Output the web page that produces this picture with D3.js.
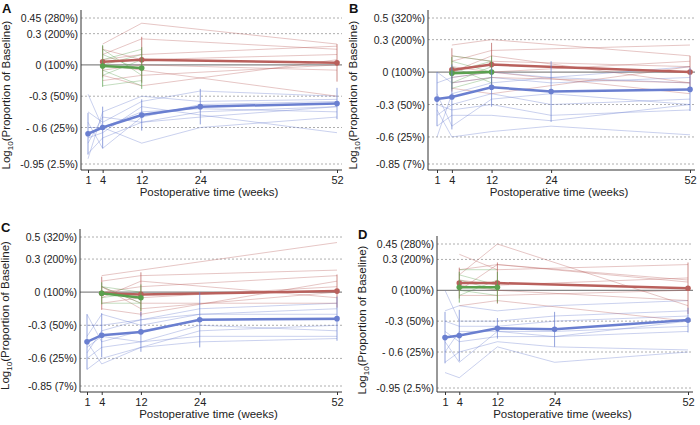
<!DOCTYPE html>
<html><head><meta charset="utf-8">
<script src="https://cdn.jsdelivr.net/npm/d3@7"></script>
<style>body{margin:0;background:#fff}text{font-family:Arial,"Liberation Sans",sans-serif}</style>
</head><body><svg id="c" width="700" height="425"></svg>
<script>
const blueWeeks=[1,4,12,24,52], redWeeks=[4,12,52], greenWeeks=[4,12];
const panelLabels=["A","B","C","D"];
const yTickValues=[[0.45,0.3,0,-0.3,-0.6,-0.95],[0.5,0.3,0,-0.3,-0.6,-0.85],[0.5,0.3,0,-0.3,-0.6,-0.85],[0.45,0.3,0,-0.3,-0.6,-0.95]];
const yTickLabels=[["0.45 (280%)","0.3 (200%)","0 (100%)","-0.3 (50%)","- 0.6 (25%)","-0.95 (2.5%)"],
 ["0.5 (320%)","0.3 (200%)","0 (100%)","-0.3 (50%)","-0.6 (25%)","-0.85 (7%)"],
 ["0.5 (320%)","0.3 (200%)","0 (100%)","-0.3 (50%)","-0.6 (25%)","-0.85 (7%)"],
 ["0.45 (280%)","0.3 (200%)","0 (100%)","-0.3 (50%)","- 0.6 (25%)","-0.95 (2.5%)"]];
const xTickValues=[1,4,12,24,52];
const blueMean=[[-0.66,-0.6,-0.48,-0.4,-0.37],[-0.25,-0.23,-0.14,-0.18,-0.16],[-0.45,-0.39,-0.36,-0.25,-0.24],[-0.46,-0.44,-0.37,-0.38,-0.29]];
const blueSd=[[0.2,0.2,0.15,0.17,0.15],[0.25,0.3,0.18,0.28,0.2],[0.25,0.2,0.18,0.25,0.2],[0.25,0.25,0.1,0.17,0.12]];
const redMean=[[0.03,0.05,0.02],[0.02,0.07,0.0],[-0.01,-0.02,0.01],[0.07,0.07,0.02]];
const redSd=[[0.15,0.22,0.18],[0.2,0.2,0.15],[0.15,0.2,0.15],[0.15,0.2,0.25]];
const greenMean=[[-0.01,-0.03],[-0.01,0.0],[-0.01,-0.05],[0.03,0.03]];
const greenSd=[[0.2,0.2],[0.15,0.15],[0.1,0.12],[0.15,0.15]];
const blueInd=[
 [[-0.45,-0.55,-0.35,-0.25,-0.3],[-0.85,-0.7,-0.55,-0.45,-0.4],[-0.55,-0.8,-0.5,-0.38,-0.35],[-0.9,-0.45,-0.3,-0.35,-0.33],[-0.6,-0.6,-0.45,-0.42,-0.45],[-0.28,-0.6,-0.75,-0.6,-0.5],[-0.75,-0.5,-0.55,-0.5,-0.4],[-0.7,-0.65,-0.4,-0.48,-0.65]],
 [[-0.1,-0.05,0.0,-0.05,-0.1],[-0.4,-0.3,-0.2,-0.3,-0.25],[-0.2,-0.5,-0.25,-0.2,-0.3],[-0.6,-0.2,-0.1,-0.05,0.05],[-0.3,-0.35,-0.3,-0.4,-0.35],[0.0,-0.1,-0.05,-0.1,-0.05],[-0.5,-0.4,-0.4,-0.45,-0.3],[-0.35,-0.6,-0.55,-0.5,-0.58]],
 [[-0.3,-0.3,-0.25,-0.15,-0.1],[-0.6,-0.5,-0.45,-0.3,-0.35],[-0.4,-0.2,-0.3,-0.2,-0.2],[-0.7,-0.6,-0.5,-0.35,-0.3],[-0.5,-0.4,-0.45,-0.4,-0.4],[-0.2,-0.45,-0.35,-0.25,-0.25],[-0.55,-0.35,-0.25,-0.2,-0.15],[-0.45,-0.65,-0.5,-0.45,-0.42]],
 [[0.0,-0.3,-0.3,-0.25,-0.2],[-0.8,-0.85,-0.55,-0.7,-0.6],[-0.5,-0.7,-0.4,-0.45,-0.4],[-0.3,-0.35,-0.35,-0.3,-0.25],[-0.6,-0.4,-0.4,-0.4,-0.35],[-0.4,-0.5,-0.45,-0.45,-0.3],[-0.7,-0.6,-0.5,-0.55,-0.58],[-0.2,-0.15,-0.2,-0.15,-0.1]]];
const redInd=[
 [[0.2,0.4,0.2],[0.1,0.25,0.15],[-0.1,-0.2,0.05],[0.05,0.1,0.18],[-0.05,0.0,-0.05],[0.15,0.05,0.1],[-0.15,-0.1,0.0],[0.0,-0.05,-0.3]],
 [[0.25,0.3,0.15],[0.1,0.2,0.25],[-0.1,-0.05,-0.1],[0.05,0.0,-0.2],[-0.15,-0.2,0.05],[0.15,0.1,0.05],[0.0,0.15,-0.1],[-0.05,0.0,0.1]],
 [[0.15,0.2,0.45],[0.1,0.15,0.2],[-0.1,-0.05,0.05],[0.05,-0.1,-0.1],[-0.15,-0.2,0.1],[0.0,0.05,0.15],[-0.05,0.1,-0.05],[0.05,-0.15,0.0]],
 [[0.35,0.2,0.25],[0.15,0.45,-0.15],[0.0,0.25,0.1],[-0.15,-0.1,-0.3],[0.1,0.05,0.12],[0.05,0.0,-0.1],[-0.05,-0.05,0.0],[0.2,0.25,0.08]]];
const greenInd=[
 [[0.15,-0.1],[0.05,0.15],[-0.1,0.05],[-0.2,-0.15],[0.1,-0.05],[0.0,0.1],[-0.05,-0.2]],
 [[0.15,0.1],[0.05,-0.1],[-0.1,0.05],[-0.15,-0.05],[0.1,0.0],[0.0,0.1]],
 [[0.05,-0.1],[-0.05,0.0],[-0.1,-0.1],[0.0,-0.05],[0.05,0.0]],
 [[0.2,0.2],[0.1,0.0],[-0.05,0.1],[0.0,-0.05],[0.15,0.05]]];

const panels=[
 {x0:81,x1:337,xl:88,yTop:18,yBot:164,axisY:170},
 {x0:428,x1:690,xl:437,yTop:18,yBot:164,axisY:170},
 {x0:80,x1:337,xl:87,yTop:237,yBot:386,axisY:392},
 {x0:437,x1:688,xl:445,yTop:244,yBot:388,axisY:392}];
const colors={blue:"#6a7fd0",red:"#b9605c",green:"#5aa04e"};
const svg=d3.select("#c");
panels.forEach((p,i)=>{
 const g=svg.append("g");
 const tv=yTickValues[i];
 const x=d3.scaleLinear().domain([1,52]).range([p.xl,p.x1]);
 const y=d3.scaleLinear().domain([tv[0],tv[tv.length-1]]).range([p.yTop,p.yBot]);
 tv.forEach((v,k)=>{
  g.append("line").attr("x1",p.x0).attr("x2",p.x1+5).attr("y1",y(v)).attr("y2",y(v))
   .attr("stroke",v===0?"#888":"#999").attr("stroke-width",v===0?1.2:0.8).attr("stroke-dasharray",v===0?null:"2,2");
  g.append("text").attr("x",p.x0-3).attr("y",y(v)+4).attr("text-anchor","end").attr("font-size",10.5).attr("textLength",null).attr("fill","#222").text(yTickLabels[i][k]);
 });
 const ya=g.append("g").attr("transform",`translate(${p.x0},0)`).call(d3.axisLeft(y).tickValues([]).tickSizeOuter(0));
 ya.select(".domain").attr("d",`M0,${p.yTop-8}V${p.axisY}`).attr("stroke","#333");
 const xa=g.append("g").attr("transform",`translate(0,${p.axisY})`).call(d3.axisBottom(x).tickValues(xTickValues).tickSize(3).tickSizeOuter(0));
 xa.select(".domain").attr("d",`M${p.x0},0H${p.x1+5}`).attr("stroke","#333");
 xa.selectAll("text").attr("font-size",11).attr("fill","#222").style("font-family","Arial");
 xa.selectAll(".tick line").attr("stroke","#333");
 g.append("text").attr("x",(p.x0+p.x1)/2).attr("y",p.axisY+26).attr("text-anchor","middle").attr("font-size",11.5).attr("fill","#222").text("Postoperative time (weeks)");
 const ty=(p.yTop+p.yBot)/2+4;
 const t=g.append("text").attr("transform",`translate(${p.x0-71},${ty}) rotate(-90)`).attr("text-anchor","middle").attr("font-size",11.5).attr("fill","#222");
 t.append("tspan").text("Log");
 t.append("tspan").attr("font-size",8).attr("dy",3).text("10");
 t.append("tspan").attr("dy",-3).text("(Proportion of Baseline)");
 g.append("text").attr("x",p.x0-79).attr("y",p.yTop-5).attr("font-size",13).attr("font-weight","bold").attr("fill","#111").text(panelLabels[i]);
 const line=d3.line().x(d=>x(d[0])).y(d=>y(d[1]));
 const drawInd=(arr,wk,c)=>arr.forEach(s=>g.append("path").attr("d",line(wk.map((w,j)=>[w,s[j]]))).attr("fill","none").attr("stroke",c).attr("stroke-width",0.8).attr("opacity",0.45));
 drawInd(blueInd[i],blueWeeks,colors.blue);
 drawInd(redInd[i],redWeeks,colors.red);
 drawInd(greenInd[i],greenWeeks,colors.green);
 const drawMean=(m,sd,wk,c)=>{
  wk.forEach((w,j)=>{
   g.append("line").attr("x1",x(w)).attr("x2",x(w)).attr("y1",y(m[j]-sd[j])).attr("y2",y(m[j]+sd[j])).attr("stroke",c).attr("stroke-width",0.9).attr("opacity",0.8);
  });
  g.append("path").attr("d",line(wk.map((w,j)=>[w,m[j]]))).attr("fill","none").attr("stroke",c).attr("stroke-width",2.5);
  wk.forEach((w,j)=>g.append("circle").attr("cx",x(w)).attr("cy",y(m[j])).attr("r",2.8).attr("fill",c));
 };
 drawMean(redMean[i],redSd[i],redWeeks,colors.red);
 drawMean(greenMean[i],greenSd[i],greenWeeks,colors.green);
 drawMean(blueMean[i],blueSd[i],blueWeeks,colors.blue);
});
</script></body></html>
